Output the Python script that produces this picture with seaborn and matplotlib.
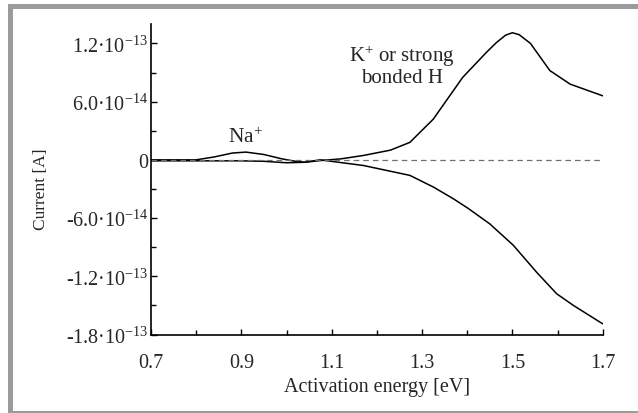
import matplotlib
matplotlib.use("Agg")
import matplotlib.pyplot as plt
import matplotlib.patches as patches
from matplotlib.ticker import FixedLocator, MultipleLocator
import numpy as np
import seaborn as sns

# Upper branch (Na+ bump then K+ / strongly bonded H peak), current in units of 1e-14 A
energy_up = [0.70, 0.80, 0.84, 0.88, 0.91, 0.95, 0.99, 1.02, 1.04, 1.08, 1.12,
             1.17, 1.23, 1.273, 1.325, 1.39, 1.443, 1.465, 1.485, 1.50, 1.515,
             1.54, 1.583, 1.628, 1.70]
current_up = [0.0, 0.0, 0.3, 0.7, 0.8, 0.55, 0.1, -0.15, -0.25, -0.05, 0.1,
              0.45, 1.0, 1.8, 4.2, 8.5, 11.1, 12.1, 12.85, 13.1, 12.9,
              12.0, 9.2, 7.8, 6.6]

# Lower branch (negative current)
energy_low = [0.70, 0.80, 0.90, 0.95, 1.00, 1.04, 1.074, 1.17, 1.273, 1.325,
              1.369, 1.402, 1.45, 1.502, 1.554, 1.598, 1.635, 1.70]
current_low = [-0.1, -0.1, -0.1, -0.15, -0.3, -0.25, 0.0, -0.58, -1.6, -2.8,
               -4.0, -5.0, -6.6, -8.8, -11.6, -13.8, -15.0, -16.9]

x_ticks = [0.7, 0.9, 1.1, 1.3, 1.5, 1.7]
y_ticks = [-1.8e-13, -1.2e-13, -6.0e-14, 0.0, 6.0e-14, 1.2e-13]
y_tick_labels = ["-1.8·10$^{-13}$", "-1.2·10$^{-13}$", "-6.0·10$^{-14}$", "0",
                 "6.0·10$^{-14}$", "1.2·10$^{-13}$"]

sns.set_style("ticks")
plt.rcParams["font.family"] = ["Liberation Serif", "DejaVu Serif"]
plt.rcParams["mathtext.fontset"] = "custom"
plt.rcParams["mathtext.rm"] = "Liberation Serif"
plt.rcParams["mathtext.it"] = "Liberation Serif:italic"
plt.rcParams["mathtext.bf"] = "Liberation Serif:bold"

fig = plt.figure(figsize=(6.38, 4.14), dpi=100)
ax = fig.add_axes([0.2367, 0.1896, 0.708, 0.75])

up = np.array(current_up) * 1e-14
low = np.array(current_low) * 1e-14
sns.lineplot(x=energy_up, y=up, ax=ax, color="black", lw=1.1, sort=False)
sns.lineplot(x=energy_low, y=low, ax=ax, color="black", lw=1.1, sort=False)
ax.plot([0.7, 1.7], [0, 0], color="#707070", lw=0.9, dashes=(4.5, 3.2))

ax.set_xlim(0.7, 1.7)
ax.set_ylim(-1.8e-13, 1.4e-13)
ax.xaxis.set_major_locator(FixedLocator(x_ticks))
ax.xaxis.set_minor_locator(MultipleLocator(0.1))
ax.yaxis.set_major_locator(FixedLocator(y_ticks))
ax.yaxis.set_minor_locator(MultipleLocator(3e-14))
ax.set_xticklabels([f"{t:.1f}" for t in x_ticks])
ax.set_yticklabels(y_tick_labels)

ax.tick_params(which="both", direction="in", color="black", width=1.0)
ax.tick_params(which="major", length=4.5)
ax.tick_params(which="minor", length=3.5)
ax.tick_params(axis="x", labelsize=14.5, pad=13)
ax.tick_params(axis="y", labelsize=14.5, pad=2)

sns.despine(ax=ax)
for s in ["left", "bottom"]:
    ax.spines[s].set_linewidth(1.2)
    ax.spines[s].set_color("black")

ax.set_xlabel("Activation energy [eV]", fontsize=14.5, labelpad=4)
ax.set_ylabel("Current [A]", fontsize=12.5)
ax.yaxis.set_label_coords(-0.225, 0.47)

ax.text(0.91, 1.3e-14, "Na$^{+}$", fontsize=15.5, ha="center", va="bottom")
ax.text(1.255, 0.975e-13, "K$^{+}$ or strong\nbonded H", fontsize=15,
        ha="center", va="center", linespacing=1.0)

# grey frame around the whole figure
frame = patches.Rectangle((9.5 / 638, 0.0), 1.05, 407.5 / 414,
                          transform=fig.transFigure, fill=False,
                          edgecolor="#9b9b9b", lw=3.6, clip_on=False)
fig.patches.append(frame)

fig.savefig("out.png", dpi=100)
